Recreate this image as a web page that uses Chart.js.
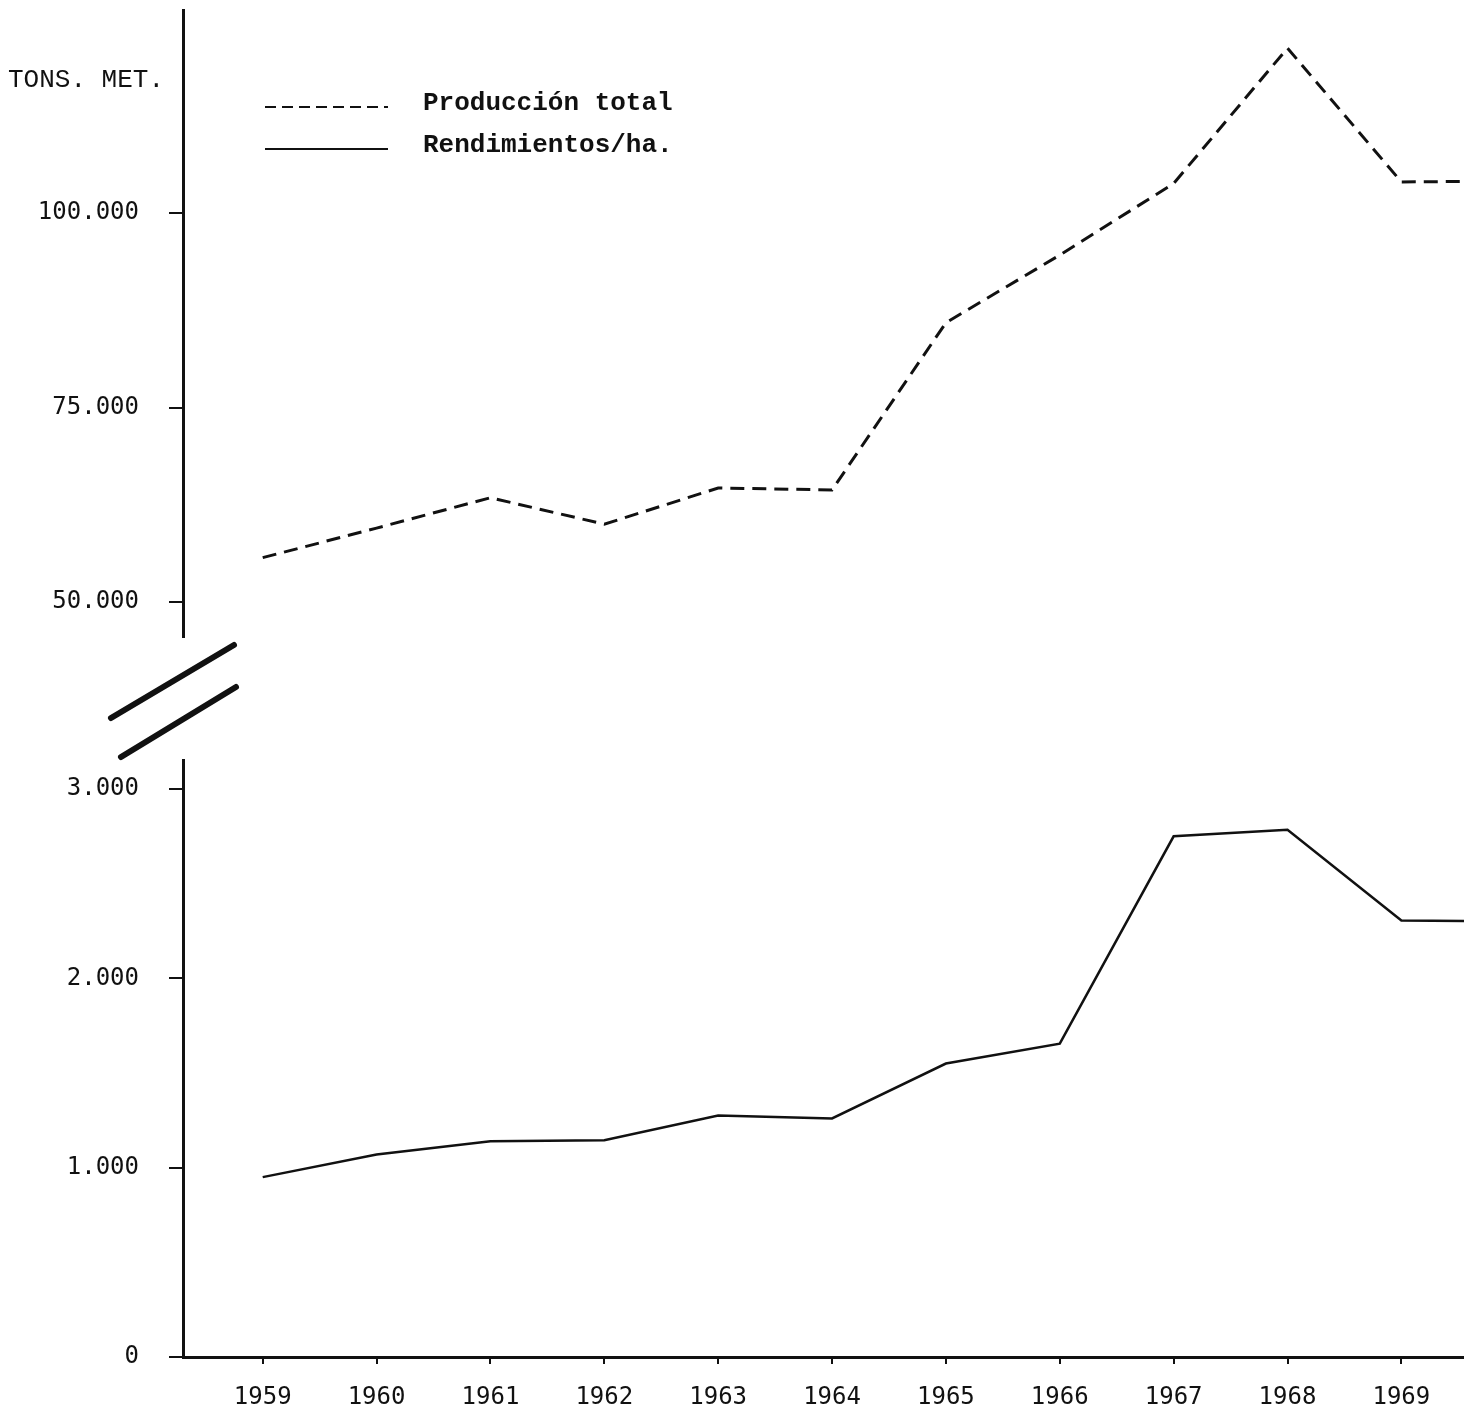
<!DOCTYPE html>
<html>
<head>
<meta charset="utf-8">
<script src="https://cdn.jsdelivr.net/npm/chart.js@4/dist/chart.umd.min.js"></script>
<style>
  html, body { margin: 0; padding: 0; background: #fff; }
  #wrap { width: 1464px; height: 1413px; }
</style>
</head>
<body>
<div id="wrap"><canvas id="chart"></canvas></div>
<script>
// Years on the x axis.  1970 only carries both lines out to the cut right edge.
YEARS = [1959, 1960, 1961, 1962, 1963, 1964, 1965, 1966, 1967, 1968, 1969, 1970];

// Producción total, tons (upper part of the broken axis).
TOTAL_PRODUCTION = [55700, 59500, 63400, 60000, 64650, 64400, 85900, 94600, 103800, 121200, 104000, 104100];

// Rendimientos/ha (lower part of the broken axis).
YIELD_PER_HA = [950, 1070, 1140, 1145, 1275, 1260, 1550, 1655, 2750, 2785, 2305, 2300];

// Tick labels.
YEAR_TICKS = [1959, 1960, 1961, 1962, 1963, 1964, 1965, 1966, 1967, 1968, 1969];
HIGH_TICKS = [50000, 75000, 100000];
LOW_TICKS = [0, 1000, 2000, 3000];

INK = '#111';
TICK_FONT = {family: '"DejaVu Sans Mono", monospace', size: 24};
TEXT_FONT = '26px "Liberation Mono", monospace';

function withDots(v) {
    return String(v).replace(/\B(?=(\d{3})+(?!\d))/g, '.');
}

function fixTicks(values) {
    return function(scale) {
        scale.ticks = values.map(function(v) { return {value: v}; });
    };
}

// Fixed axis width; the label padding must not push the chart area down.
function fixWidth(scale) {
    scale.width = 183;
    scale.paddingTop = 0;
    scale.paddingBottom = 0;
}

// Break marks on the y axis, unit label and the legend box.
const decorations = {
    id: 'decorations',
    afterDraw(chart) {
        const ctx = chart.ctx;
        const area = chart.chartArea;
        const gap = chart.scales.yGap;
        ctx.save();

        ctx.strokeStyle = INK;
        ctx.lineWidth = 6;
        ctx.lineCap = 'round';
        ctx.setLineDash([]);
        ctx.beginPath();
        ctx.moveTo(area.left - 72, gap.top + 81);
        ctx.lineTo(area.left + 51, gap.top + 8);
        ctx.moveTo(area.left - 62, gap.top + 120);
        ctx.lineTo(area.left + 53, gap.top + 50);
        ctx.stroke();

        ctx.fillStyle = INK;
        ctx.font = TEXT_FONT;
        ctx.textBaseline = 'middle';
        ctx.textAlign = 'left';
        ctx.fillText('TONS. MET.', 8, 80);

        chart.data.datasets.forEach(function(ds, i) {
            const y = area.top + 97 + i * 42;
            ctx.lineWidth = 2;
            ctx.lineCap = 'butt';
            ctx.setLineDash(ds.borderDash.length ? [11, 6] : []);
            ctx.beginPath();
            ctx.moveTo(area.left + 82, y);
            ctx.lineTo(area.left + 205, y);
            ctx.stroke();
            ctx.setLineDash([]);
            ctx.font = 'bold ' + TEXT_FONT;
            ctx.fillText(ds.label, area.left + 240, y - 4);
        });
        ctx.restore();
    }
};

const ctx = document.getElementById('chart').getContext('2d');
new Chart(ctx, {
    type: 'line',
    data: {
        datasets: [{
            label: 'Producción total',
            data: YEARS.map(function(y, i) { return {x: y, y: TOTAL_PRODUCTION[i]}; }),
            yAxisID: 'yHigh',
            borderColor: INK,
            borderWidth: 3,
            borderDash: [14, 8],
            pointRadius: 0,
            tension: 0,
        }, {
            label: 'Rendimientos/ha.',
            data: YEARS.map(function(y, i) { return {x: y, y: YIELD_PER_HA[i]}; }),
            yAxisID: 'yLow',
            borderColor: INK,
            borderWidth: 2.5,
            borderDash: [],
            pointRadius: 0,
            tension: 0,
        }]
    },
    options: {
        responsive: true,
        maintainAspectRatio: false,
        animation: false,
        layout: {autoPadding: false, padding: {top: 10, right: 0, left: 0, bottom: 0}},
        plugins: {
            legend: {display: false},
            tooltip: {enabled: false},
        },
        scales: {
            x: {
                type: 'linear',
                min: 1958.3,
                max: 1969.55,
                afterBuildTicks: fixTicks(YEAR_TICKS),
                afterFit: function(scale) { scale.height = 56; },
                border: {display: true, color: INK, width: 3},
                grid: {drawOnChartArea: false, tickLength: 7, color: INK, lineWidth: 2},
                ticks: {
                    color: INK,
                    font: TICK_FONT,
                    padding: 19,
                    maxRotation: 0,
                    callback: function(v) { return String(v); },
                },
            },
            // Stacked left axes are placed top to bottom in reverse order of definition.
            yLow: {
                type: 'linear',
                position: 'left',
                stack: 'broken',
                stackWeight: 597,
                min: 0,
                max: 3153,
                afterBuildTicks: fixTicks(LOW_TICKS),
                afterFit: fixWidth,
                border: {display: true, color: INK, width: 3},
                grid: {drawOnChartArea: false, tickLength: 14, color: INK, lineWidth: 2},
                ticks: {color: INK, font: TICK_FONT, padding: 30, callback: withDots},
            },
            yGap: {
                type: 'linear',
                position: 'left',
                stack: 'broken',
                stackWeight: 123,
                afterFit: fixWidth,
                border: {display: false},
                grid: {display: false},
                ticks: {display: false},
            },
            yHigh: {
                type: 'linear',
                position: 'left',
                stack: 'broken',
                stackWeight: 627,
                min: 45500,
                max: 126100,
                afterBuildTicks: fixTicks(HIGH_TICKS),
                afterFit: fixWidth,
                border: {display: true, color: INK, width: 3},
                grid: {drawOnChartArea: false, tickLength: 14, color: INK, lineWidth: 2},
                ticks: {color: INK, font: TICK_FONT, padding: 30, callback: withDots},
            },
        },
    },
    plugins: [decorations],
});
</script>
</body>
</html>
